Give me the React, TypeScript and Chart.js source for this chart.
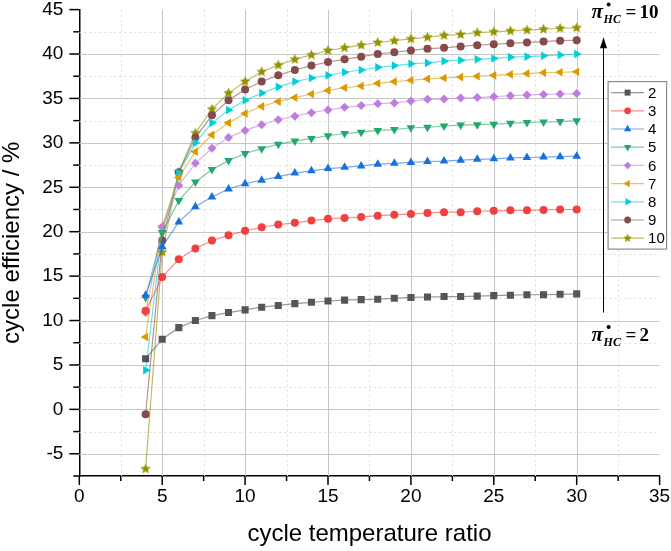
import React, { useEffect, useRef } from 'react';
import { Chart, registerables } from 'chart.js';
import { drawPoint } from 'chart.js/helpers';

Chart.register(...registerables);

// cycle temperature ratio (x)
const ratio = [4, 5, 6, 7, 8, 9, 10, 11, 12, 13, 14, 15, 16, 17, 18, 19, 20, 21, 22, 23, 24, 25, 26, 27, 28, 29, 30];

// cycle efficiency / % for each compressor pressure ratio
const pi2 = [5.7, 7.9, 9.2, 10.0, 10.55, 10.9, 11.2, 11.5, 11.7, 11.9, 12.05, 12.2, 12.3, 12.35, 12.4, 12.5, 12.6, 12.65, 12.7, 12.7, 12.75, 12.8, 12.85, 12.9, 12.9, 12.95, 13.0];
const pi3 = [11.1, 14.9, 16.9, 18.1, 19.0, 19.6, 20.1, 20.5, 20.8, 21.0, 21.25, 21.45, 21.55, 21.65, 21.8, 21.9, 22.0, 22.1, 22.2, 22.2, 22.3, 22.35, 22.4, 22.4, 22.45, 22.5, 22.5];
const pi4 = [12.85, 18.3, 21.1, 22.8, 23.9, 24.8, 25.4, 25.8, 26.2, 26.6, 26.85, 27.1, 27.25, 27.4, 27.6, 27.7, 27.8, 27.9, 27.95, 28.05, 28.15, 28.2, 28.3, 28.35, 28.4, 28.45, 28.5];
const pi5 = [12.6, 19.9, 23.5, 25.6, 27.0, 28.0, 28.8, 29.35, 29.85, 30.2, 30.5, 30.8, 31.05, 31.2, 31.4, 31.5, 31.7, 31.75, 31.9, 32.0, 32.05, 32.1, 32.2, 32.3, 32.35, 32.4, 32.5];
const pi6 = [10.9, 20.5, 25.2, 27.7, 29.4, 30.6, 31.4, 32.05, 32.6, 33.0, 33.4, 33.7, 34.0, 34.2, 34.4, 34.5, 34.7, 34.9, 34.95, 35.05, 35.1, 35.2, 35.3, 35.4, 35.45, 35.5, 35.55];
const pi7 = [8.15, 20.65, 26.1, 29.0, 30.9, 32.25, 33.3, 34.1, 34.65, 35.1, 35.5, 35.9, 36.2, 36.4, 36.7, 36.9, 37.05, 37.2, 37.3, 37.4, 37.5, 37.6, 37.7, 37.8, 37.9, 37.95, 38.0];
const pi8 = [4.4, 20.05, 26.6, 30.0, 32.25, 33.7, 34.8, 35.6, 36.3, 36.9, 37.3, 37.6, 37.95, 38.2, 38.5, 38.7, 38.9, 39.0, 39.2, 39.3, 39.4, 39.5, 39.65, 39.7, 39.8, 39.9, 40.0];
const pi9 = [-0.55, 19.0, 26.7, 30.6, 33.1, 34.8, 36.0, 36.9, 37.6, 38.2, 38.7, 39.1, 39.4, 39.7, 40.0, 40.2, 40.4, 40.6, 40.7, 40.85, 41.0, 41.1, 41.2, 41.3, 41.4, 41.5, 41.55];
const pi10 = [-6.7, 17.7, 26.7, 31.1, 33.8, 35.6, 36.9, 38.0, 38.75, 39.4, 39.9, 40.4, 40.7, 41.0, 41.3, 41.5, 41.7, 41.9, 42.1, 42.2, 42.4, 42.5, 42.6, 42.7, 42.8, 42.9, 42.95];

const seriesNames = ['2', '3', '4', '5', '6', '7', '8', '9', '10'];
const seriesValues = [pi2, pi3, pi4, pi5, pi6, pi7, pi8, pi9, pi10];

const xRange = [0, 35];
const yRange = [-7.5, 45];

// arrow + labels (data units)
const arrowX = 31.6;
const arrowFrom = 10.9;
const arrowTo = 41.9;
const labelX = 30.9;
const topLabel = { y: 44.0, text: '10' };
const bottomLabel = { y: 7.7, text: '2' };

const colors = ['#555555', '#F14040', '#1A6FDF', '#21A86A', '#C07BE0', '#DB9A00', '#00CFD8', '#854A4A', '#939300'];

const SANS = '"Liberation Sans", Arial, sans-serif';
const SERIF = '"Liberation Serif", "Times New Roman", serif';

function makeStar(color: string, r: number) {
  const c = document.createElement('canvas');
  const s = Math.ceil(r * 2 + 2);
  c.width = s;
  c.height = s;
  const g = c.getContext('2d')!;
  g.fillStyle = color;
  g.beginPath();
  for (let i = 0; i < 10; i++) {
    const rad = i % 2 === 0 ? r : r * 0.45;
    const a = -Math.PI / 2 + (i * Math.PI) / 5;
    g.lineTo(s / 2 + rad * Math.cos(a), s / 2 + rad * Math.sin(a));
  }
  g.closePath();
  g.fill();
  return c;
}

function fade(hex: string, a: number) {
  const n = parseInt(hex.slice(1), 16);
  return `rgba(${(n >> 16) & 255},${(n >> 8) & 255},${n & 255},${a})`;
}

const App: React.FC = () => {
  const chartRef = useRef<HTMLCanvasElement | null>(null);

  useEffect(() => {
    const ctx = chartRef.current?.getContext('2d');
    if (!ctx) return;

    const star = makeStar(colors[8], 5.5);
    const starSmall = makeStar(colors[8], 4.5);
    const markers: any[] = [
      { style: 'rect', rot: 0, r: 5 },
      { style: 'circle', rot: 0, r: 4 },
      { style: 'triangle', rot: 0, r: 5 },
      { style: 'triangle', rot: 180, r: 5 },
      { style: 'rectRot', rot: 0, r: 4.5 },
      { style: 'triangle', rot: 270, r: 5 },
      { style: 'triangle', rot: 90, r: 5 },
      { style: 'circle', rot: 0, r: 4 },
      { style: star, rot: 0, r: 5 },
    ];

    const gridPlugin = {
      id: 'originGrid',
      beforeDatasetsDraw(chart: any) {
        const { ctx: c, chartArea: a, scales } = chart;
        const { x, y } = scales;
        c.save();
        c.lineWidth = 1;
        x.ticks.forEach((t: any) => {
          const v = t.value;
          if (v <= xRange[0] || v >= xRange[1]) return;
          const major = v % 5 === 0;
          const px = Math.round(x.getPixelForValue(v)) + 0.5;
          c.strokeStyle = major ? '#c6c6c6' : '#dedede';
          c.setLineDash(major ? [] : [2, 3]);
          c.beginPath();
          c.moveTo(px, a.top);
          c.lineTo(px, a.bottom);
          c.stroke();
        });
        y.ticks.forEach((t: any) => {
          const v = t.value;
          if (v <= yRange[0] || v >= yRange[1]) return;
          const major = v % 5 === 0;
          const py = Math.round(y.getPixelForValue(v)) + 0.5;
          c.strokeStyle = major ? '#c6c6c6' : '#dedede';
          c.setLineDash(major ? [] : [2, 3]);
          c.beginPath();
          c.moveTo(a.left, py);
          c.lineTo(a.right, py);
          c.stroke();
        });
        c.restore();
      },
      afterDraw(chart: any) {
        const { ctx: c, chartArea: a, scales } = chart;
        const { x, y } = scales;
        c.save();
        // tick marks, major and minor
        c.strokeStyle = '#000';
        c.lineWidth = 1.5;
        x.ticks.forEach((t: any) => {
          const px = x.getPixelForValue(t.value);
          const len = t.value % 5 === 0 ? 9 : 5;
          c.beginPath();
          c.moveTo(px, a.bottom);
          c.lineTo(px, a.bottom + len);
          c.stroke();
        });
        y.ticks.forEach((t: any) => {
          const py = y.getPixelForValue(t.value);
          const len = t.value % 5 === 0 ? 10 : 6;
          c.beginPath();
          c.moveTo(a.left - len, py);
          c.lineTo(a.left, py);
          c.stroke();
        });

        // legend
        const lx = a.right - 51.5;
        const ly = a.top + 72;
        const lw = 58.5;
        const lh = 167.5;
        c.fillStyle = '#fff';
        c.fillRect(lx, ly, lw, lh);
        c.strokeStyle = '#8a8a8a';
        c.lineWidth = 1.2;
        c.strokeRect(lx, ly, lw, lh);
        c.font = `15px ${SANS}`;
        c.textBaseline = 'middle';
        c.textAlign = 'left';
        seriesNames.forEach((name, i) => {
          const ry = ly + 11 + i * 18.2;
          c.strokeStyle = fade(colors[i], 0.6);
          c.lineWidth = 1.2;
          c.beginPath();
          c.moveTo(lx + 3, ry);
          c.lineTo(lx + 36, ry);
          c.stroke();
          c.fillStyle = colors[i];
          c.strokeStyle = colors[i];
          const m = markers[i];
          drawPoint(c, { pointStyle: i === 8 ? starSmall : m.style, rotation: m.rot, radius: m.r * 0.85, borderWidth: 0 }, lx + 19.5, ry);
          c.fillStyle = '#000';
          c.fillText(name, lx + 40, ry + 1);
        });

        // arrow
        const ax = Math.round(x.getPixelForValue(arrowX)) + 0.5;
        const yTop = y.getPixelForValue(arrowTo);
        const yBot = y.getPixelForValue(arrowFrom);
        c.strokeStyle = '#000';
        c.lineWidth = 1;
        c.beginPath();
        c.moveTo(ax, yBot);
        c.lineTo(ax, yTop + 8);
        c.stroke();
        c.fillStyle = '#000';
        c.beginPath();
        c.moveTo(ax, yTop);
        c.lineTo(ax - 3.5, yTop + 11);
        c.lineTo(ax + 3.5, yTop + 11);
        c.closePath();
        c.fill();

        // pi*_HC labels
        const drawLabel = (yv: number, txt: string) => {
          const bx = x.getPixelForValue(labelX);
          const by = y.getPixelForValue(yv);
          c.fillStyle = '#000';
          c.textBaseline = 'alphabetic';
          c.textAlign = 'left';
          c.font = `italic bold 21px ${SERIF}`;
          c.fillText('π', bx, by);
          c.font = `italic bold 12px ${SERIF}`;
          c.fillText('HC', bx + 12, by + 5);
          c.beginPath();
          c.arc(bx + 17, by - 14, 2, 0, Math.PI * 2);
          c.fill();
          c.font = `bold 19px ${SERIF}`;
          c.fillText('=', bx + 34, by);
          c.fillText(txt, bx + 48, by);
        };
        drawLabel(topLabel.y, topLabel.text);
        drawLabel(bottomLabel.y, bottomLabel.text);
        c.restore();
      },
    };

    const chart = new Chart(ctx, {
      type: 'line',
      data: {
        datasets: seriesValues.map((vals, i) => ({
          label: seriesNames[i],
          data: vals.map((v, j) => ({ x: ratio[j], y: v })),
          borderColor: fade(colors[i], 0.6),
          borderWidth: 1.2,
          backgroundColor: colors[i],
          pointBackgroundColor: colors[i],
          pointBorderColor: colors[i],
          pointBorderWidth: 0,
          pointStyle: markers[i].style,
          pointRotation: markers[i].rot,
          pointRadius: markers[i].r,
          tension: 0,
          fill: false,
        })),
      },
      options: {
        animation: false,
        responsive: true,
        maintainAspectRatio: false,
        events: [],
        layout: { padding: { top: 9.6, right: 11.4, left: 0, bottom: 0 } },
        plugins: {
          legend: { display: false },
          tooltip: { enabled: false },
        },
        scales: {
          x: {
            type: 'linear',
            min: xRange[0],
            max: xRange[1],
            afterFit: (s: any) => {
              s.height = 75;
              s.paddingLeft = 0;
              s.paddingRight = 0;
            },
            grid: { drawOnChartArea: false, drawTicks: false },
            border: { display: true, color: '#000', width: 1.5 },
            ticks: {
              stepSize: 2.5,
              padding: 11,
              color: '#000',
              maxRotation: 0,
              autoSkip: false,
              font: { family: SANS, size: 19, lineHeight: 1 },
              callback: (v: any) => (Number(v) % 5 === 0 ? String(v) : ''),
            },
            title: {
              display: true,
              text: 'cycle temperature ratio',
              color: '#000',
              font: { family: SANS, size: 24 },
              padding: { top: 0, bottom: 2 },
            },
          },
          y: {
            type: 'linear',
            min: yRange[0],
            max: yRange[1],
            afterFit: (s: any) => {
              s.width = 79.3;
              s.paddingTop = 0;
              s.paddingBottom = 0;
            },
            grid: { drawOnChartArea: false, drawTicks: false },
            border: { display: true, color: '#000', width: 1.5 },
            ticks: {
              stepSize: 2.5,
              padding: 16,
              color: '#000',
              autoSkip: false,
              font: { family: SANS, size: 19, lineHeight: 1 },
              callback: (v: any) => (Number(v) % 5 === 0 ? String(v) : ''),
            },
            title: {
              display: true,
              text: 'cycle efficiency / %',
              color: '#000',
              font: { family: SANS, size: 24, lineHeight: 1 },
              padding: { top: 0, bottom: 0 },
            },
          },
        },
      },
      plugins: [gridPlugin],
    });

    return () => {
      chart.destroy();
    };
  }, []);

  return (
    <div style={{ position: 'absolute', left: 0, top: 0, width: 671, height: 551, background: '#fff' }}>
      <canvas ref={chartRef} />
    </div>
  );
};

export default App;
